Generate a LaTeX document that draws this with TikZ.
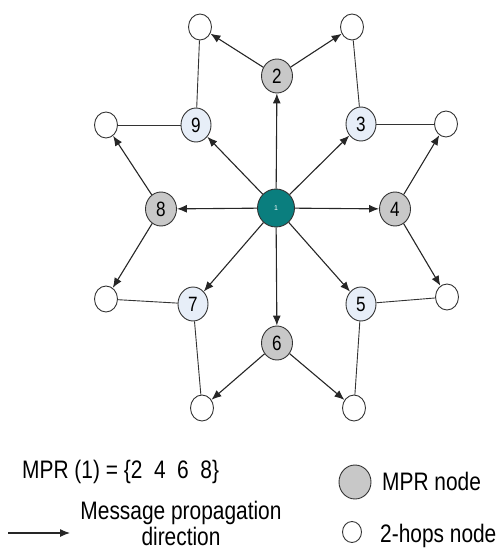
\documentclass[tikz,border=0pt]{standalone}
\usepackage{fontspec}
\setmainfont{Liberation Sans}
\usetikzlibrary{arrows.meta,shapes.geometric}

\definecolor{srcteal}{HTML}{0A7E7E}
\definecolor{mprgray}{HTML}{C8C8C8}
\definecolor{nbblue}{HTML}{E7EEF8}

% taller, narrower lettering
\newcommand{\tallfont}[1]{\scalebox{0.95}[1.15]{#1}}

\begin{document}
\begin{tikzpicture}[x=1pt,y=-1pt,
  nodebase/.style={ellipse, draw=black!80, line width=0.9pt, inner sep=0pt,
    font=\fontsize{18}{18}\selectfont},
  srcnode/.style={nodebase, fill=srcteal, minimum width=37pt, minimum height=38pt,
    text=white, font=\fontsize{7}{7}\selectfont},
  mprnode/.style={nodebase, fill=mprgray, minimum width=31pt, minimum height=34pt},
  nbnode/.style={nodebase, fill=nbblue, minimum width=30pt, minimum height=34pt},
  hopnode/.style={nodebase, fill=white, minimum width=23pt, minimum height=26pt},
  flow/.style={-{Latex[length=10pt,width=8pt]}, line width=1.1pt, draw=black!85},
  link/.style={line width=0.9pt, draw=black!80},
  legend/.style={font=\fontsize{22}{25}\selectfont, inner sep=0pt}
]
\useasboundingbox (0,0) rectangle (503,549);

% source node and its one-hop neighbours
\node[srcnode] (n1) at (276,208) {1};
\node[mprnode] (n2) at (277,76) {\tallfont{2}};
\node[nbnode]  (n3) at (361,124) {\tallfont{3}};
\node[mprnode] (n4) at (395,209) {\tallfont{4}};
\node[nbnode]  (n5) at (361,304) {\tallfont{5}};
\node[mprnode] (n6) at (277,343) {\tallfont{6}};
\node[nbnode]  (n7) at (193,304) {\tallfont{7}};
\node[mprnode] (n8) at (161,209) {\tallfont{8}};
\node[nbnode]  (n9) at (196,125) {\tallfont{9}};

% two-hop neighbours
\node[hopnode] (h1) at (200,27) {};
\node[hopnode] (h2) at (352,27) {};
\node[hopnode] (h3) at (446,124) {};
\node[hopnode] (h4) at (447,297) {};
\node[hopnode] (h5) at (354,408) {};
\node[hopnode] (h6) at (202,408) {};
\node[hopnode] (h7) at (106,299) {};
\node[hopnode] (h8) at (106,125) {};

% first-hop propagation
\foreach \t in {n2,n3,n4,n5,n6,n7,n8,n9}
  \draw[flow] (n1) -- (\t);

% relays through the MPR set
\draw[flow] (n2) -- (h1);
\draw[flow] (n2) -- (h2);
\draw[flow] (n4) -- (h3);
\draw[flow] (n4) -- (h4);
\draw[flow] (n6) -- (h5);
\draw[flow] (n6) -- (h6);
\draw[flow] (n8) -- (h7);
\draw[flow] (n8) -- (h8);

% plain links from non-MPR neighbours
\draw[link] (n9) -- (h1);
\draw[link] (n9) -- (h8);
\draw[link] (n3) -- (h2);
\draw[link] (n3) -- (h3);
\draw[link] (n5) -- (h4);
\draw[link] (n5) -- (h5);
\draw[link] (n7) -- (h6);
\draw[link] (n7) -- (h7);

% legend
\node[legend, anchor=base west] (mprset) at (22,478) {\tallfont{MPR (1) = \{2\ \ 4\ \ 6\ \ 8\}}};
\coordinate (la) at (8,533);
\coordinate (lb) at (70,533);
\draw[flow] (la) -- (lb);
\node[legend, anchor=base] (msg1) at (181,519) {\tallfont{Message propagation}};
\node[legend, anchor=base] (msg2) at (181,545) {\tallfont{direction}};

\node[nodebase, fill=mprgray, minimum width=32pt, minimum height=34pt] (lgmpr) at (355,482) {};
\node[legend, anchor=base west] (lgmprtxt) at (382,490) {\tallfont{MPR node}};
\node[nodebase, fill=white, minimum width=19pt, minimum height=21pt] (lghop) at (352,532) {};
\node[legend, anchor=base west] (lghoptxt) at (380,542) {\tallfont{2-hops node}};
\end{tikzpicture}
\end{document}
